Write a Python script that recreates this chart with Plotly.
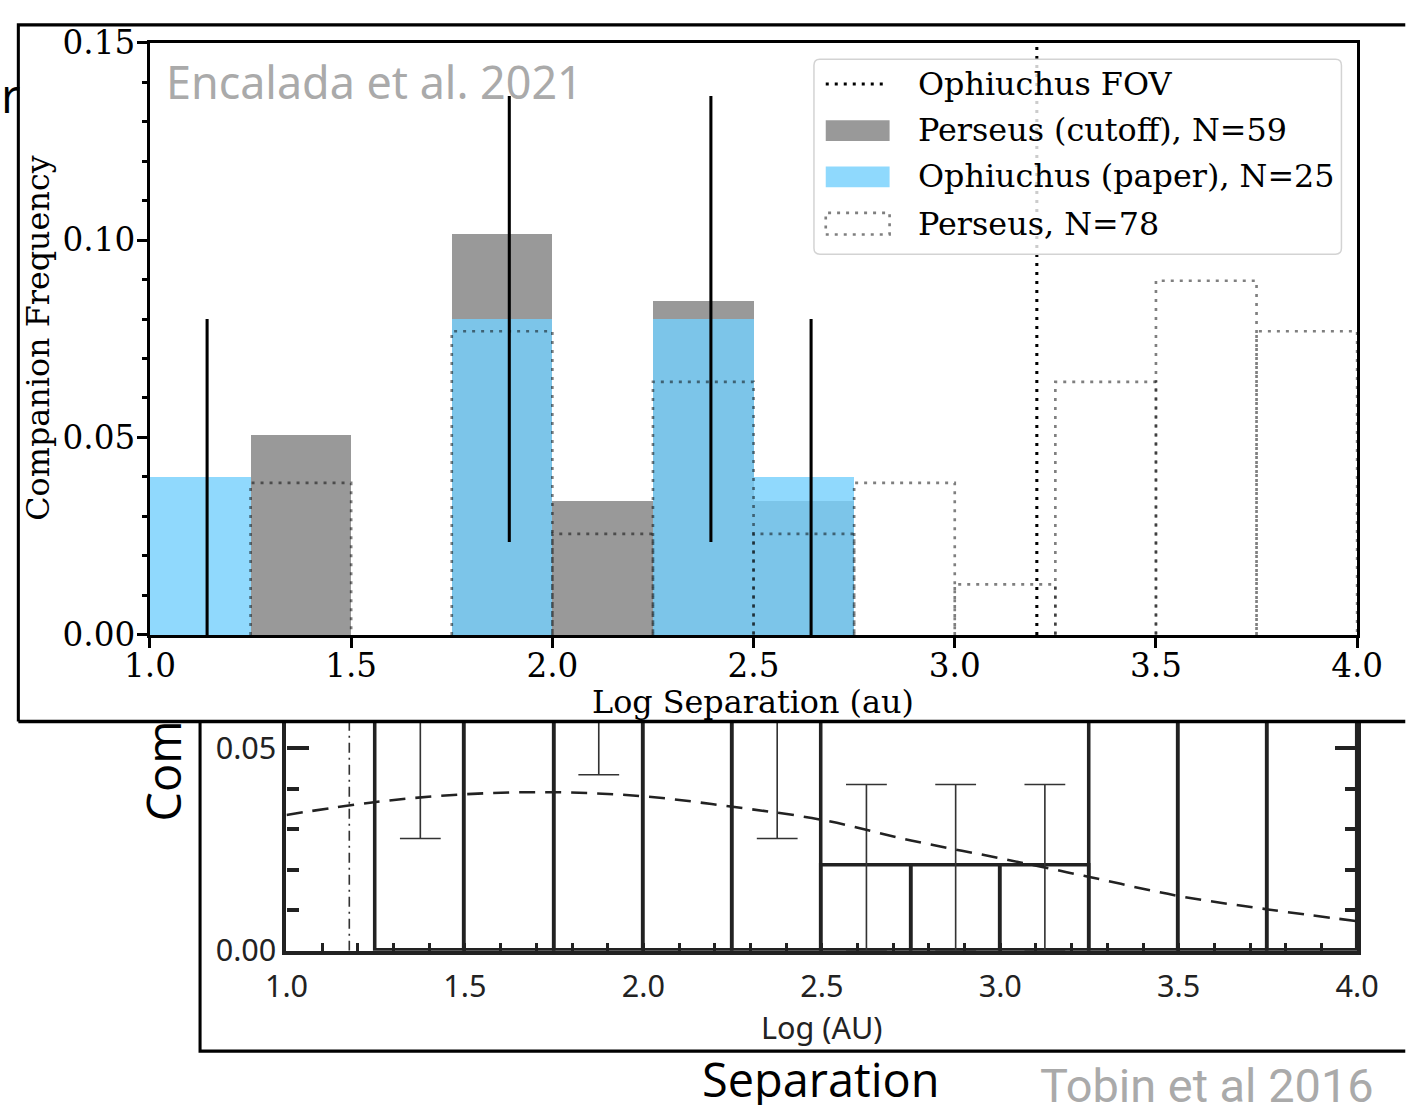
import plotly.graph_objects as go

W, H = 1409, 1105
S, OX, OY = 0.9805, 25.8, 1.0

# ---------------- Encalada et al. 2021 (top panel) ----------------
bin_left = [1.0, 1.25, 1.5, 1.75, 2.0, 2.25, 2.5, 2.75, 3.0, 3.25, 3.5, 3.75]
bin_width = 0.25
perseus_cutoff = [0.0, 0.0508, 0.0, 0.1017, 0.0339, 0.0847, 0.0339, 0.0, 0.0, 0.0, 0.0, 0.0]
ophiuchus_paper = [0.04, 0.0, 0.0, 0.08, 0.0, 0.08, 0.04, 0.0, 0.0, 0.0, 0.0, 0.0]
perseus_all = [0.0, 0.0385, 0.0, 0.0769, 0.0256, 0.0641, 0.0256, 0.0385, 0.0128, 0.0641, 0.0897, 0.0769]
oph_err_x = [1.142, 1.893, 2.394, 2.643]
oph_err_y = [0.04, 0.08, 0.08, 0.04]
oph_err = [0.04, 0.0565, 0.0565, 0.04]
oph_fov = 3.204
top_xticks = [1.0, 1.5, 2.0, 2.5, 3.0, 3.5, 4.0]
top_xticktext = ["1.0", "1.5", "2.0", "2.5", "3.0", "3.5", "4.0"]

# ---------------- Tobin et al 2016 (bottom panel) ----------------
tobin_left = [1.25, 1.5, 1.75, 2.0, 2.25, 2.5, 2.75, 3.0, 3.25, 3.5, 3.75]
tobin_freq = [0.068, 0.10, 0.075, 0.11, 0.068, 0.021, 0.021, 0.021, 0.08, 0.09, 0.08]
tobin_err_lo = [0.0403, 0.03, 0.0316, 0.03, 0.0403, 0.021, 0.021, 0.021, 0.0, 0.0, 0.0]
tobin_err_hi = [0.02, 0.02, 0.02, 0.02, 0.02, 0.020, 0.020, 0.020, 0.0, 0.0, 0.0]
fit_x = [1.0, 1.25, 1.5, 1.75, 2.0, 2.25, 2.5, 2.75, 3.0, 3.25, 3.5, 3.75, 4.0]
fit_y = [0.0335, 0.0367, 0.0386, 0.0391, 0.0381, 0.0355, 0.0323, 0.0272, 0.0228, 0.0182, 0.0135, 0.0102, 0.0073]
tobin_limit = 1.176
bot_ymax = 0.05655


def px(x):
    return ((x - OX) / S) / W


def py(y):
    return 1 - ((y - OY) / S) / H


def k(v):
    return v / S


fig = go.Figure()

centers = [l + bin_width / 2 for l in bin_left]

fig.add_trace(go.Bar(x=centers, y=perseus_cutoff, width=bin_width, marker=dict(color="#999999", line=dict(width=0)),
                     name="Perseus (cutoff), N=59", xaxis="x", yaxis="y", showlegend=False))
fig.add_trace(go.Bar(x=centers, y=ophiuchus_paper, width=bin_width,
                     marker=dict(color="rgba(116,207,253,0.8)", line=dict(width=0)),
                     name="Ophiuchus (paper), N=25", xaxis="x", yaxis="y", showlegend=False))
for l, h in zip(bin_left, perseus_all):
    if h > 0:
        fig.add_trace(go.Scatter(x=[l, l, l + bin_width, l + bin_width], y=[0, h, h, 0], mode="lines",
                                 line=dict(color="rgba(0,0,0,0.5)", width=k(2.6), dash="3px,6px"),
                                 name="Perseus, N=78", xaxis="x", yaxis="y", showlegend=False, hoverinfo="skip"))
fig.add_trace(go.Scatter(x=[oph_fov, oph_fov], y=[0, 0.15], mode="lines",
                         line=dict(color="black", width=k(3), dash="3px,6px"),
                         name="Ophiuchus FOV", xaxis="x", yaxis="y", showlegend=False))
fig.add_trace(go.Scatter(x=oph_err_x, y=oph_err_y, mode="markers", marker=dict(size=1, opacity=0),
                         error_y=dict(type="data", array=oph_err, color="black", thickness=k(3), width=0),
                         xaxis="x", yaxis="y", showlegend=False))

# bottom panel
tcenters = [l + bin_width / 2 for l in tobin_left]
fig.add_trace(go.Bar(x=tcenters, y=tobin_freq, width=bin_width,
                     marker=dict(color="rgba(0,0,0,0)", line=dict(color="#222222", width=k(3.5))),
                     error_y=dict(type="data", symmetric=False, array=tobin_err_hi, arrayminus=tobin_err_lo,
                                  color="#333333", thickness=k(1.6), width=k(20)),
                     xaxis="x2", yaxis="y2", showlegend=False))
fig.add_trace(go.Scatter(x=fit_x, y=fit_y, mode="lines", line=dict(color="#222222", width=k(2.5), dash="16px,10px", shape="spline"),
                         xaxis="x2", yaxis="y2", showlegend=False))
fig.add_trace(go.Scatter(x=[tobin_limit, tobin_limit], y=[0, bot_ymax], mode="lines",
                         line=dict(color="#333333", width=k(1.6), dash="10px,5px,2px,5px"),
                         xaxis="x2", yaxis="y2", showlegend=False))

serif = "DejaVu Serif"
fig.update_layout(
    width=W, height=H, margin=dict(l=0, r=0, t=0, b=0),
    paper_bgcolor="white", plot_bgcolor="rgba(0,0,0,0)",
    barmode="overlay", bargap=0,
    xaxis=dict(domain=[px(152), px(1381)], anchor="y", range=[1, 4], tickvals=top_xticks, ticktext=top_xticktext,
               ticks="outside", ticklen=k(10), tickwidth=k(3), tickcolor="black", showline=True, linewidth=k(3),
               linecolor="black", mirror=True, showgrid=False, zeroline=False, ticklabelstandoff=-10,
               tickfont=dict(family=serif, size=k(32), color="black")),
    yaxis=dict(domain=[py(627), py(25)], anchor="x", range=[0, 0.15], tickvals=[0, 0.05, 0.10, 0.15],
               ticktext=["0.00", "0.05", "0.10", "0.15"], ticklabelstandoff=-5,
               ticks="outside", ticklen=k(10), tickwidth=k(3), tickcolor="black", showline=True, linewidth=k(3),
               linecolor="black", mirror=True, showgrid=False, zeroline=False,
               minor=dict(dtick=0.01, tick0=0, ticks="outside", ticklen=k(5), tickwidth=k(2.5), tickcolor="black"),
               tickfont=dict(family=serif, size=k(32), color="black")),
    xaxis2=dict(domain=[px(291), px(1381)], anchor="y2", range=[1, 4], tickvals=top_xticks, ticktext=top_xticktext,
                ticks="inside", ticklen=k(8), tickwidth=k(3), tickcolor="#222222", showline=True, linewidth=k(4),
                linecolor="#222222", showgrid=False, zeroline=False, ticklabelstandoff=5,
                minor=dict(dtick=0.1, tick0=1.0, ticks="inside", ticklen=k(8), tickwidth=k(3), tickcolor="#222222"),
                tickfont=dict(family="Noto Sans", size=k(30), color="#222222")),
    yaxis2=dict(domain=[py(948), py(715)], anchor="x2", range=[0, bot_ymax], tickvals=[0, 0.05],
                ticktext=["0.00", "0.05"], ticks="inside", ticklen=k(22), tickwidth=k(4), tickcolor="#222222",
                showline=True, linewidth=k(4), linecolor="#222222", mirror="ticks", showgrid=False, zeroline=False,
                minor=dict(dtick=0.01, tick0=0, ticks="inside", ticklen=k(12), tickwidth=k(3.5), tickcolor="#222222"),
                tickfont=dict(family="Noto Sans", size=k(30), color="#222222")),
)

shapes = []
# top panel frame
shapes.append(dict(type="path", xref="paper", yref="paper", layer="below",
                   path=f"M{px(18)},{py(715)} L{px(18)},{py(7)} L{px(1430)},{py(7)}",
                   line=dict(color="black", width=k(3))))
shapes.append(dict(type="line", xref="paper", yref="paper", layer="above",
                   x0=px(18), x1=px(1430), y0=py(715), y1=py(715), line=dict(color="black", width=k(3.5))))
# bottom panel frame
shapes.append(dict(type="path", xref="paper", yref="paper", layer="below",
                   path=f"M{px(203)},{py(715)} L{px(203)},{py(1050)} L{px(1430)},{py(1050)}",
                   line=dict(color="black", width=k(3))))

# legend box (rounded)
x0, x1, y0, y1, r = 828, 1365, 42, 240, 6
lp = (f"M{px(x0 + r)},{py(y0)} L{px(x1 - r)},{py(y0)} Q{px(x1)},{py(y0)} {px(x1)},{py(y0 + r)} "
      f"L{px(x1)},{py(y1 - r)} Q{px(x1)},{py(y1)} {px(x1 - r)},{py(y1)} "
      f"L{px(x0 + r)},{py(y1)} Q{px(x0)},{py(y1)} {px(x0)},{py(y1 - r)} "
      f"L{px(x0)},{py(y0 + r)} Q{px(x0)},{py(y0)} {px(x0 + r)},{py(y0)} Z")
shapes.append(dict(type="path", xref="paper", yref="paper", layer="above", path=lp,
                   fillcolor="rgba(255,255,255,0.8)", line=dict(color="#d3d3d3", width=1.5)))
shapes.append(dict(type="line", xref="paper", yref="paper", layer="above", x0=px(840), x1=px(904), y0=py(67), y1=py(67),
                   line=dict(color="black", width=k(3), dash="3px,6px")))
shapes.append(dict(type="rect", xref="paper", yref="paper", layer="above", x0=px(840), x1=px(905), y0=py(125), y1=py(104),
                   fillcolor="#999999", line=dict(width=0)))
shapes.append(dict(type="rect", xref="paper", yref="paper", layer="above", x0=px(840), x1=px(905), y0=py(172), y1=py(151),
                   fillcolor="#8fd9fd", line=dict(width=0)))
shapes.append(dict(type="rect", xref="paper", yref="paper", layer="above", x0=px(840), x1=px(905), y0=py(220), y1=py(198),
                   fillcolor="rgba(0,0,0,0)", line=dict(color="rgba(0,0,0,0.5)", width=k(2.6), dash="3px,6px")))
fig.update_layout(shapes=shapes)

ann = []


def text(t, x, y, size, family, color="black", xanchor="center", angle=0):
    ann.append(dict(text=t, x=px(x), y=py(y), xref="paper", yref="paper", showarrow=False, xanchor=xanchor,
                    yanchor="middle", textangle=angle, font=dict(family=family, size=k(size), color=color)))


text("Encalada et al. 2021", 166, 65, 44, "Noto Sans", "#aaaaaa", xanchor="left")
text("Companion Frequency", 38, 325, 31.2, serif, angle=-90)
text("Log Separation (au)", 766, 695, 31.2, serif)
text("Ophiuchus FOV", 932, 67, 31.2, serif, xanchor="left")
text("Perseus (cutoff), N=59", 932, 114, 31.2, serif, xanchor="left")
text("Ophiuchus (paper), N=25", 932, 161, 31.2, serif, xanchor="left")
text("Perseus, N=78", 932, 209, 31.2, serif, xanchor="left")
text("Com", 165, 765, 46, "Open Sans", angle=-90)
text("Log (AU)", 836, 1025, 30, "Noto Sans", "#222222")
text("Separation", 835, 1078, 46, "Open Sans")
text("Tobin et al 2016", 1228, 1085, 46, "Roboto", "#aaaaaa")
text("r", -2, 78, 46, "Open Sans", xanchor="left")
fig.update_layout(annotations=ann)

fig.write_html("out.html", config={"displayModeBar": False},
               post_script="document.body.style.margin='0';document.body.style.padding='0';"
                           "document.documentElement.style.overflow='hidden';")
